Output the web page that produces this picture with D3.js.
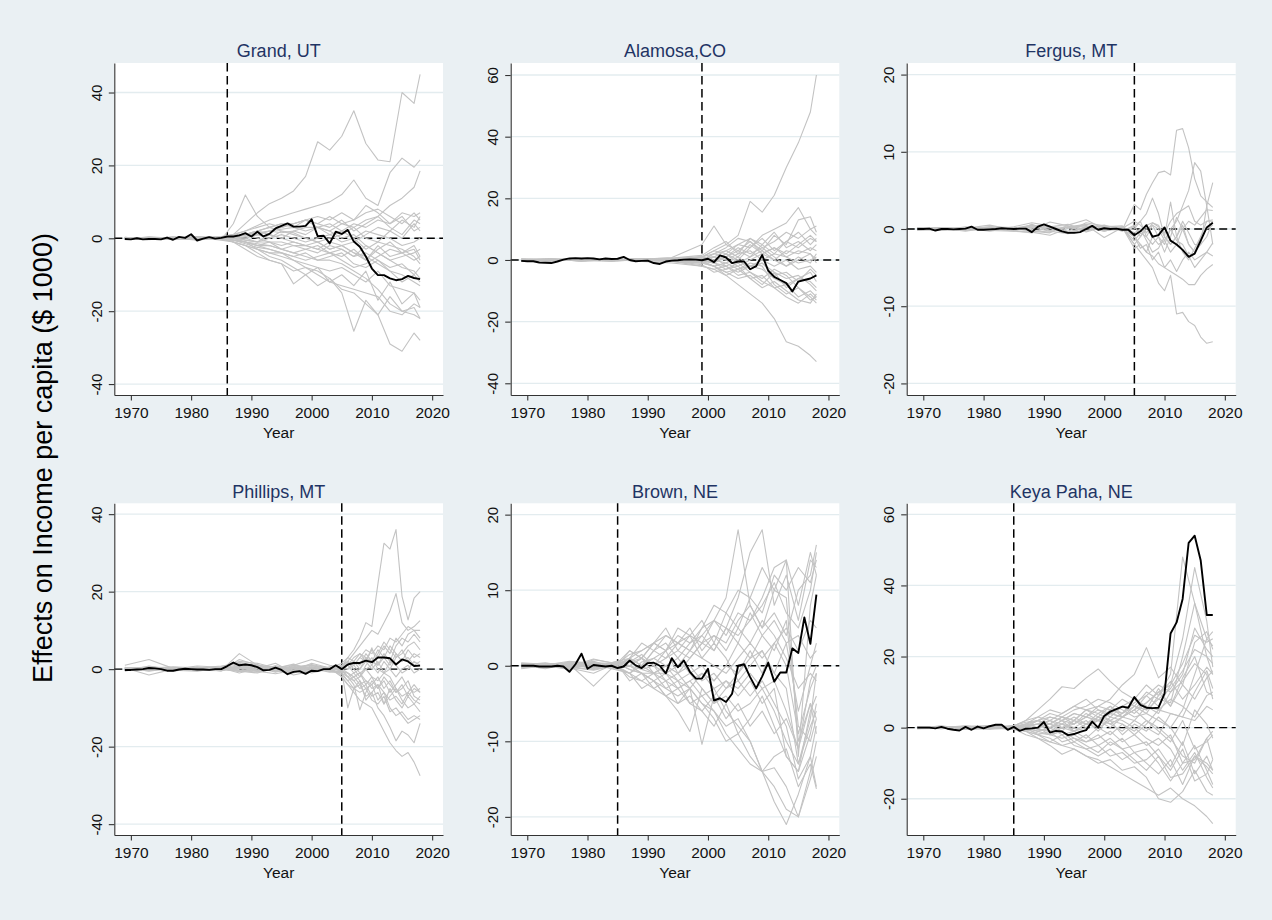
<!DOCTYPE html>
<html>
<head>
<meta charset="utf-8">
<script src="https://cdn.jsdelivr.net/npm/d3@7"></script>
<style>
html,body{margin:0;padding:0;background:#eaf0f3;}
svg{display:block;font-family:"Liberation Sans",Arial,Helvetica,sans-serif;}
</style>
</head>
<body>
<svg id="chart" width="1272" height="920"></svg>
<script>
// ---------------- DATA ----------------
const panelTitles = ["Grand, UT", "Alamosa,CO", "Fergus, MT", "Phillips, MT", "Brown, NE", "Keya Paha, NE"];
const treatYears = [1986, 1999, 2005, 2005, 1985, 1985];
const xTickValues = [1970, 1980, 1990, 2000, 2010, 2020];
const yTicksGrand = [-40, -20, 0, 20, 40];
const yTicksAlamosa = [-40, -20, 0, 20, 40, 60];
const yTicksFergus = [-20, -10, 0, 10, 20];
const yTicksPhillips = [-40, -20, 0, 20, 40];
const yTicksBrown = [-20, -10, 0, 10, 20];
const yTicksKeya = [-20, 0, 20, 40, 60];
const yTitle = "Effects on Income per capita ($ 1000)";
const xTitle = "Year";

const treatedYears = d3.range(1969, 2019);
const grandTreated = [-0.2,-0.3,0,-0.3,-0.2,-0.2,-0.3,0.2,-0.4,0.4,0.1,1.1,-0.6,-0.1,0.3,-0.1,0.1,0.5,0.5,0.8,1.4,0.5,1.8,0.5,1.2,2.7,3.4,4.1,3.2,3.2,3.4,5.2,0.6,0.7,-1.4,1.8,1.2,2.3,-0.9,-2.3,-5,-8.3,-10.1,-10.1,-11,-11.5,-11.2,-10.3,-10.9,-11.2];
const alamosaTreated = [-0.3,-0.4,-0.4,-0.8,-0.9,-1.0,-0.5,0.1,0.5,0.6,0.5,0.6,0.5,0.2,0.5,0.3,0.4,1.0,0.0,-0.4,-0.3,-0.2,-1.0,-1.3,-0.5,-0.2,-0.1,0.1,0.2,0.1,-0.1,0.4,-0.7,1.5,0.8,-1.0,-0.5,-0.5,-3.0,-2.0,1.6,-3.5,-5.5,-6.5,-7.5,-10.2,-7.0,-6.5,-6.0,-5.0];
const fergusTreated = [0,0,0.05,-0.2,0,0,-0.05,0,0.05,0.3,-0.1,-0.1,-0.05,0,0.1,0.05,0,0.05,0.05,-0.4,0.3,0.6,0.3,0,-0.3,-0.5,-0.5,-0.4,0,0.4,-0.1,0.1,0,0.05,-0.1,-0.1,-0.8,-0.3,0.5,-1.0,-0.8,0.2,-1.5,-2.0,-2.7,-3.6,-3.2,-1.5,0.2,0.8];
const phillipsTreated = [-0.2,-0.2,-0.1,0,0.3,0.2,0,-0.4,-0.4,-0.1,0.1,0,-0.1,-0.1,-0.2,0,0,0.8,1.7,1.0,1.2,1.0,0.5,-0.3,-0.2,0.4,-0.2,-1.3,-0.7,-0.5,-1.2,-0.4,-0.5,0,0,1.0,0,1.2,1.6,1.6,2.2,1.8,3.0,3.0,2.8,1.2,2.5,2.0,0.8,0.9];
const brownTreated = [0,0,0,-0.1,-0.1,-0.1,0,-0.1,-0.8,0.2,1.6,-0.4,0.1,0,-0.1,0,-0.3,-0.1,0.7,0.05,-0.3,0.35,0.4,0,-1.0,1.0,-0.2,0.7,-0.8,-1.7,-1.7,-0.4,-4.6,-4.3,-4.8,-3.7,0,0.2,-1.5,-3.0,-1.4,0.4,-2.1,-0.9,-0.9,2.3,1.7,6.4,2.9,9.4];
const keyaTreated = [0,0,0,-0.2,0.2,-0.3,-0.6,-0.8,0.2,-0.6,0.3,-0.2,0.4,0.8,0.8,-0.6,0.2,-0.9,-0.3,-0.2,0,1.6,-1.4,-0.9,-1.1,-2.1,-1.8,-1.2,-0.7,1.7,0,3.3,4.5,5.2,5.9,5.6,8.6,6.4,5.6,5.5,5.6,9.6,26.5,29.6,36.2,52,54,47,31.7,31.7];

// placebo (donor) series, read at the listed years
const grandPlaceboYears = [1969,1973,1977,1981,1985,1987,1989,1991,1993,1995,1997,1999,2001,2003,2005,2007,2009,2011,2013,2015,2017,2018];
const grandPlacebo = [
[0.3,-0.2,0.4,-0.3,0.2,1,4,7,9.5,11,13,17,26.5,24.2,28,35,26,21.5,21,40,37,45],
[-0.2,0.3,0.1,0.5,-0.4,4,11.9,6,3,2,1.5,0,-1,-3,-2,-4,-6,-3,-1,-4,-2,-5],
[0.1,-0.4,0.3,0.2,0.5,1,2,3.5,5,6,7,8,9,10,12,16,11,9,18,22,19.5,21.5],
[0,0.2,-0.3,0.4,0,0.5,0,1,2,1.5,2,3,3,2,4,3,5,6,9,11,14,18.5],
[0.2,-0.3,0.1,-0.5,0.3,-0.5,-1,-2,-3,-4,-6,-8,-9,-11,-14,-15,-18,-21,-29,-31,-26,-28],
[-0.3,0.4,0,0.2,-0.2,-1,-2,-3,-5,-6,-8,-10,-13,-11,-15,-25.5,-17,-21,-16,-20,-19,-22],
[0.1,0,-0.2,0.3,-0.5,-1,-2,-4,-6,-7,-12.5,-10,-8,-12,-10,-13,-9,-17,-12,-18,-15,-19],
[0.2,-0.1,0.3,-0.2,0.1,0,-1,-2,-2,-3,-4,-5,-6,-6,-7,-9,-11,-14,-18,-20,-21,-22],
[-0.1,0.2,0.1,-0.3,0.4,0.5,1,0,-1,-1,-2,-2,-3,-4,-3,-5,-4,-6,-8,-7,-10,-12],
[0.3,-0.3,0,0.4,-0.2,0,0.5,1,2,2.5,3,2,3,4,2,4,3,5,4,7,6,7],
[0,0.1,-0.4,0.2,0.3,0.5,-0.5,-1,0,1,0,-1,0,1,-1,0,2,1,0,-2,-1,0],
[-0.2,0.1,0.2,0,-0.3,-0.5,-1,-1.5,-2,-3,-2,-3,-4,-2,-3,-5,-2,-4,-6,-8,-9,-11],
[0.1,-0.2,0.3,0.1,0.2,1,2,3,4,3,4,5,4,3,5,2,4,6,3,1,5,4],
[0,0.3,-0.1,-0.2,0,-0.5,-1,-2,-1,-3,-4,-3,-2,-4,-5,-3,-6,-2,-5,-4,-3,-6],
[0.2,0,0.1,0.3,-0.1,0,1,1,0,2,1,0,-1,0,1,3,0,-1,2,5,3,6],
[-0.3,0.2,-0.2,0.1,0.2,-1,-2,-3,-4,-5,-6,-7,-8,-9,-8,-10,-12,-9,-13,-14,-15,-17],
[0.1,0.2,0,-0.4,0.1,0.5,1,2,3,4,4,5,3,2,0,1,-2,-4,-6,-5,-4,-3],
[0,-0.1,0.3,0.2,-0.2,0,-0.5,-1,-1,-2,-1,-2,-1,-3,-2,-1,1,3,2,0,4,2],
[-0.1,0.1,-0.3,0.3,0.4,1,1,2,1,0,-1,-2,-3,-1,-2,-4,-5,-7,-9,-10,-12,-13],
[0.2,-0.2,0.1,0,0.3,0,-1,-3,-4,-4,-5,-6,-5,-4,-6,-8,-7,-5,-3,-4,-6,-5],
[0,0.2,-0.1,0.2,-0.1,0.5,1,1.5,2,3,4,5,6,5,7,5,9,7,4,6,2,3],
[-0.2,0,0.2,-0.1,0.2,-0.5,-1.5,-2.5,-3,-4,-5,-4,-6,-5,-4,-7,-8,-6,-9,-12,-10,-8],
[0.1,-0.3,0,0.3,0,0,0,-1,1,0,2,1,3,1,2,0,-3,-1,-2,-3,-5,-7],
[0,0.1,0.2,-0.2,0.2,-1,-3,-5,-6,-7,-9,-8,-10,-12,-13,-14,-15,-16,-20,-21,-18,-19],
[0.1,0.2,-0.2,0,0.1,0.5,1,2,3,4,3,5,4,6,4,5,7,8,6,4,7,5]
];

const alamosaPlaceboYears = [1969,1974,1979,1984,1989,1994,1999,2001,2003,2005,2007,2009,2011,2013,2015,2017,2018];
const alamosaPlacebo = [
[0.2,-0.3,0.4,0,0.5,-0.2,1,3,5,8,19,15.5,21,30,38,48,60],
[-0.2,0.3,-0.4,0.2,-0.5,-1,-2,-3,-5,-8,-11,-14,-19,-26.5,-28,-31,-33],
[0.1,0.2,-0.3,0.5,0.2,0.8,5,11,5,3,6,2,4,1,3,2,0],
[0,-0.2,0.3,-0.1,0.4,0,1,2,3,5,4,8,10,12,17,10,11],
[-0.3,0.1,0.2,-0.2,0.3,-0.5,-1,-2,-4,-3,-6,-5,-9,-12,-14,-11,-13],
[0.2,0.4,-0.1,0.3,-0.3,0.5,0,2,4,7,6,3,8,5,13,14,9],
[0,-0.3,0.2,0.1,0,-0.3,-1,1,-2,0,-3,-1,-4,-6,-5,-8,-10],
[-0.1,0.2,0,-0.4,0.2,0.3,0.5,-1,1,3,1,5,2,6,4,7,6],
[0.3,0,-0.2,0.2,-0.1,-0.4,-2,-3,-2,-5,-4,-7,-9,-8,-12,-10,-12],
[0,0.1,0.3,0,0.4,0.2,1,0,2,-1,1,3,0,-2,1,-1,2],
[-0.2,-0.1,0.1,0.3,-0.2,0,-0.5,-2,-1,-3,-2,-1,-5,-4,-7,-3,-5],
[0.1,0.3,-0.3,-0.2,0.3,0.6,1.5,4,6,2,7,5,9,4,6,3,5],
[0.2,-0.2,0,0.2,0.1,-0.2,0,-1,-3,-2,-6,-9,-7,-10,-13,-14,-11],
[-0.1,0,0.2,-0.3,0,0.4,0.5,1,0,2,3,0,-2,0,-3,-2,-4],
[0,0.2,-0.2,0.1,-0.3,-0.3,-1,-2,-4,-6,-5,-8,-4,-9,-6,-7,-9],
[0.3,-0.1,0.1,0,0.2,0.3,0,2,1,4,2,4,6,9,7,10,8],
[-0.3,0.1,-0.1,0.2,-0.2,0,-0.5,0,-1,1,-2,0,2,1,-1,0,1],
[0.1,0,0.3,-0.2,0.4,-0.1,0.5,1,3,1,5,2,0,3,2,4,3],
[0,-0.2,0.1,0.3,-0.1,-0.4,-1.5,-4,-3,-1,-4,-6,-3,-5,-9,-12,-14],
[-0.2,0.2,0,-0.1,0.3,0.2,0,-1,2,0,4,7,3,6,9,5,7],
[0.2,0.1,-0.2,0.1,0,-0.2,-0.5,-1,-2,-4,-2,-3,-6,-8,-6,-4,-7],
[0,0.3,0.2,-0.3,0.2,0.5,1,3,2,5,7,4,1,-2,0,2,-1],
[-0.1,-0.2,0.1,0.2,-0.4,0.1,-0.3,-2,-5,-3,-1,-2,-8,-11,-9,-13,-12],
[0.1,0.1,-0.1,0,0.1,0,0.3,1,0,-2,0,2,4,2,5,8,6]
];

const fergusPlaceboYears = [1969,1973,1977,1981,1985,1988,1991,1994,1997,2000,2003,2005,2006,2007,2008,2009,2010,2011,2012,2013,2014,2015,2016,2017,2018];
const fergusPlacebo = [
[0,0.2,-0.1,0.3,0.1,0.5,-0.2,0.3,0.6,0.2,-0.1,3.2,2.5,4.5,6,7.3,7.5,7,12.8,13,10.5,6.5,4.3,3.5,2.8],
[0.1,-0.2,0.3,0,-0.2,-0.5,0.3,0.2,-0.3,0.4,0.2,-2,-3,-4,-5,-7,-8,-6,-11,-10.8,-12,-12.5,-14,-14.8,-14.6],
[-0.1,0,0.2,-0.2,0.3,0.8,0.4,-0.4,0.2,-0.3,0.3,-2,-1,0,0.5,-1,-2,0,1,3,5,8.6,7.5,3,-2],
[0,0.1,-0.3,0.2,0,-0.3,-0.5,0.5,1.2,0,-0.2,0,1,2,4,2,-1,3.5,-1,0.5,-2,-3,-2,-1,1],
[0.2,0,0.1,0.5,-0.1,0.4,0.3,0.6,-0.2,0.3,0.1,1,0.5,-0.5,0.8,0.5,-1,-2,-1,1,-0.5,-2,-2,3,6],
[-0.2,0.1,0,-0.1,0.2,0.2,-0.3,-0.6,0.3,-0.2,0,-1,-2,-3,-3.5,-4.5,-5,-5.5,-6,-6.5,-7.2,-7.2,-6,-5.2,-4.6],
[0.1,-0.1,0.2,0.1,-0.3,-0.4,-0.8,0.1,0.5,-1.1,0.2,-2.5,-2,-3,-1,-2,-1.5,0,-1.5,-2,-3.5,-5,-4,-3,-3.5],
[0,0.2,0.1,-0.3,0.2,0.1,0.3,-0.3,0.8,0.4,-0.3,0.5,-1,0.5,0.8,0.3,-0.5,1,2,2.5,3,1,0.5,1,1],
[-0.1,-0.2,0,0.2,0,-0.1,0.9,0.4,-0.4,0.3,0.4,-1,-2.5,-2,-4,-3,-5,-4,-5.5,-4,-3,-4,-3.5,-3,-1.8],
[0.2,0.1,-0.2,0,0.1,0.3,0.1,-0.5,0.3,-0.2,0.1,-1.5,-0.5,-1,0.5,0,-1.5,-3,-2,0,1,0.5,1.5,2.5,2.4],
[0,-0.1,0.1,-0.2,-0.3,0.6,-0.2,0.2,0.1,0.5,-0.2,0.3,1,-1,-2,-1,-3,-1,1.5,0,-2,-3,-1,0,0.5],
[-0.1,0.2,0,0.3,0.2,-0.2,-0.4,0.3,0.4,-0.3,0.3,-0.5,0,-1.5,-3,-2.5,-1,-2,-1,-3,-4,-2.5,-1,1,1.2]
];

const phillipsPlaceboYears = [1969,1973,1977,1981,1985,1988,1991,1994,1997,2000,2003,2005,2006,2007,2008,2009,2010,2011,2012,2013,2014,2015,2016,2017,2018];
const phillipsPlacebo = [
[1,2.5,0.2,0.5,-0.3,4,1,0.5,-0.5,1.5,0.3,0.5,3,5,8,12,11,22,32.5,31,36,18.8,12.7,18.3,20],
[-0.3,0.5,-0.5,0.3,0.8,1.5,0.5,-0.5,1,0.3,-0.5,1,2,4,6,8,10,9,12,15,19.5,12,10,11,12.5],
[0.5,-0.5,0.3,-0.2,0.2,-0.5,-1,0.3,-1.5,-0.5,0.2,-2,-4,-6,-8,-9,-10,-13,-16,-19,-21,-22.5,-21.5,-24,-27.5],
[-0.2,0.3,0.6,0.3,-0.3,0.5,0.5,-0.8,0.5,1,-0.5,-1,-3,-5,-4,-7,-6,-10,-12,-15,-18.5,-16,-17,-19,-14],
[0.3,-1.5,0,0.8,0.5,2,1.5,0.3,1,2.5,1,0.5,2,1,3,2,5,3,6,4,8,6,9,10,10],
[0,0.2,-0.3,-0.5,0.3,-0.2,-0.5,-1.2,-0.3,0.2,-0.8,-0.5,-10,-5,-3,-8,-6,-4,-9,-7,-5,-8,-10,-9,-11],
[0.2,0,0.2,0.5,-0.5,1,-0.3,0.8,0.2,-0.3,0.5,0,-2,-4,-10.5,-6,-3,-5,-2,-4,-6,-5,-3,-7,-8],
[-0.5,0.8,-0.2,0,0.4,0.3,0.8,0.5,-0.8,0.5,-0.2,1,0,2,1,4,2,5,3,1,4,2,5,3,4],
[0.3,-0.3,0.4,-0.3,0.6,-0.6,0.2,-0.4,0.6,-0.5,0.3,-1.5,-3,-2,-4,-3,-5,-4,-6,-8,-7,-9,-6,-8,-9],
[-0.2,0.4,0,0.3,-0.2,0.8,-0.2,0.6,-0.4,0.8,0.4,0.5,1,-1,0,2,5.5,1,3,6,4,2,3,1,2],
[0,-0.2,0.3,-0.1,0.2,1.2,0.3,-0.3,0.3,-0.8,0.6,-0.5,-1,-3,-2,0,-2,-5,-3,-6,-4,-2,-5,-6,-5],
[0.4,0.3,-0.4,0.5,0.3,-0.3,-0.8,0.4,-0.6,0.2,-0.3,0.3,1,3,4,2,0,2,-1,0,3,5,2,4,3],
[-0.3,0,0.1,0.1,0,0.6,0.6,0,0.4,0.3,0.2,-0.3,-2,-1,-3,-5,-4,-8,-6,-10,-12,-11,-13,-12,-13],
[0.1,0.6,0.2,-0.3,-0.4,2.5,1,-0.6,0.8,-1,0.1,0.8,2,0,-2,1,3,0,-1,2,1,-1,0,2,1],
[-0.1,-0.4,0.5,0.2,0.3,-1,0.2,1.5,-1,0.6,-0.4,-0.8,-1,-2,-1,-4,-2,-3,-1,-2,-5,-7,-6,-4,-6],
[0.2,0.2,-0.1,-0.4,0.5,0.4,-0.5,0.2,1.3,-0.2,0.3,1.5,3,2,4,3,1,4,7,5,3,4,6,7,5],
[0,-0.3,0.2,0.3,-0.2,-0.4,1.2,-0.2,-0.2,0.4,-0.6,-1,-2,-3,-5,-4,-7,-6,-9,-5,-8,-10,-7,-9,-7],
[0.3,0.1,-0.2,0.2,0.1,0.8,-0.6,0.3,0.5,1.2,0.2,0.2,0,1,-1,0,1,-1,2,0,-2,0,1,-1,0],
[-0.4,0.5,0.3,0,-0.1,0.2,0.4,-0.5,-0.8,-0.5,0.5,-2,-4,-5,-6,-5,-8,-9,-7,-11,-10,-12,-14,-13,-12],
[0.1,-0.1,-0.3,0.4,0.4,1.8,0.8,0.7,0.3,0.1,-0.2,0.6,1,2,0,3,2,1,4,2,6,8,7,9,7],
[0.2,-0.2,0.1,0.3,-0.3,0.6,-0.4,0.9,-0.2,0.5,-0.3,0.2,-1,-2,-1,-3,-4,-2,-5,-3,-6,-4,-7,-5,-6],
[-0.1,0.3,0,-0.2,0.2,-0.6,0.5,-0.3,0.2,1,-0.1,-0.4,2,1,3,5,4,6,5,8,7,9,11,10,8]
];

const brownPlaceboYears = [1969,1973,1977,1981,1985,1987,1989,1991,1993,1995,1997,1999,2001,2003,2005,2007,2009,2011,2013,2015,2017,2018];
const brownPlacebo = [
[0.3,-0.2,0.5,-0.5,0.2,1,0,2,1,3,2,4,6,9,18,8,5,7,4,10,12,16],
[-0.2,0.3,-0.3,0.2,-0.5,-1,0.5,1,2,3,4,3,6,5,9,15,18,8,12,6,14,13],
[0.2,0,-0.5,0.8,0.3,-0.5,-1,-2,-3,-4,-3,-5,-6,-8,-7,-10,-14,-18,-21,-17,-12,-16],
[0,0.3,0.2,-0.3,-0.2,0,-1,-1,-2,-3,-2,-4,-6,-9,-11,-13,-14,-16,-19,-20,-14,-10],
[-0.3,0.1,0.2,-2.7,0.4,0.5,1,0,2,-1,1,3,2,5,4,6,9,13,14,-12,8,12],
[0.1,-0.4,0.3,0.3,-0.3,-1,-2,-3,-2,-5,-4,-6,-8,-5,-9,-7,-4,-8,-12,-14,-6,-4],
[0.4,0.2,0.1,-0.2,0.6,1,2,3,4,3,5,2,4,3,6,8,5,10,9,-10,-5,-7],
[-0.1,0,0.4,0.5,-0.4,0,-1,-2,-4,-6,-8.7,-3,-5,-4,-6,-5,-3,-6,-10,-13,-8,-6],
[0.2,0.3,-0.2,-0.6,0.1,1,0,-1,-1,-2,-3,-10.4,-4,-2,-3,-1,-3,-2,-6,-11,-2,0],
[0,-0.2,0.5,0.4,0.3,1.5,2,3,2,4,3,5,6,4,7,6,8,11,7,5,10,15],
[-0.3,0.3,0,0.2,-0.6,-1,0,1,0,-1,0,-2,-1,-3,-2,-4,-2,-5,-8,-15,-12,-8],
[0.3,-0.1,-0.3,-1,0.4,2,1,3,5,2,4,1,3,1,-2,0,2,-1,3,4,1,2],
[-0.2,0.1,0.6,0.3,-0.1,-1.5,-2,-1,-3,-2,-5,-4,-3,-6,-8,-10,-14,-13.5,-16,-20,-15,-12],
[0.1,0.4,-0.1,0.9,0.2,0.5,1.5,0,1,2,1,3,4,2,5,3,6,4,1,-3,-1,-2],
[0,-0.3,0.2,-0.4,0.5,0,-0.5,-1,0,1,-1,0,-2,0,3,1,4,2,6,-8,-10,-7],
[0.2,0.2,-0.4,0.1,-0.2,1,3,2,4,3,2,5,8,7,10,9,13,10,14,8,15,12],
[-0.4,0,0.3,-0.3,0.1,-2,-1,-3,-4,-3,-5,-6,-4,-7,-5,-8,-6,-9,-7,-11,-5,-9],
[0.3,0.2,0,0.6,-0.3,0,1,0,-1,0,2,1,0,-1,1,3,1,3,5,2,6,5],
[0,-0.1,-0.2,-0.5,0.3,-0.5,-1,-2,-1,-3,-2,-1,-3,-2,-4,-2,-5,-3,-12,-14,-9,-5],
[0.1,0.3,0.3,0.2,-0.4,1,0,2,3,1,3,4,2,5,3,7,4,6,3,-6,0,3],
[-0.2,-0.2,0.1,-0.1,0.6,0,1,-1,0,-2,-1,-3,-5,-3,-1,2,-1,3,0,-9,-3,-1],
[0.2,0,-0.2,0.4,0,2,1,3,2,5,4,6,3,7,5,9,7,12,10,13,11,14],
[0,0.2,0.4,-0.2,-0.1,-1,-3,-2,-4,-5,-3,-5,-7,-10,-9,-12,-14,-12,-11,-16,-13,-16.3],
[-0.1,-0.3,0,0.3,0.2,0.5,-0.5,0,-2,-1,-3,-1,-2,0,-1,1,2,-1,-3,-13,-7,-1]
];

const keyaPlaceboYears = [1969,1973,1977,1981,1985,1987,1989,1991,1993,1995,1997,1999,2001,2003,2005,2007,2009,2011,2013,2015,2017,2018];
const keyaPlacebo = [
[0.2,-0.3,0.4,0.3,0.2,1,2,3,2,4,3,5,4,6,8,12,9,15,48,35,20,15],
[-0.2,0.5,-0.4,0.2,-0.5,-1,0,1,3,2,5,4,6,3,5,9,6,12,25,45,30,17],
[0.3,0,0.5,-0.3,0.4,2,5,8,11.5,11,14,16.5,13,10,8,6,5,4,3,2,6,5],
[0,0.3,-0.3,0.5,-0.2,0,2,1,3,2,5,6,8,12,15,22.5,14,17,12,24,27,22],
[-0.3,-0.2,0.2,0,0.5,-1,-2,-4,-5,-6,-8,-9,-11,-13,-15,-17,-19,-17,-20,-22,-25,-27],
[0.1,0.4,-0.5,-0.2,-0.3,-2,-3,-5,-7.5,-6,-8,-10,-9,-12,-11,-14,-20,-21,-18,-12,-18,-19],
[0.2,-0.1,0.3,0.6,0,1,0,-2,-1,-3,-4,-2,-5,-3,-7,-6,-10,-15,-10,-5,-12,-16],
[-0.1,0.2,0,-0.4,0.3,0.5,1,3,2,4,3,6,5,8,6,10,8,7,20,35,25,27],
[0.3,-0.2,0.2,0.3,-0.4,0,-1,0,-2,-1,-3,0,-2,1,-1,2,0,-3,-8,-10,-3,-9],
[0,0.3,-0.2,-0.3,0.6,1.5,2,4,3,5,6,8,7,5,3,4,2,0,5,15,25,23],
[-0.2,0,0.4,0.2,-0.2,-1,-2,-1,-4,-3,-5,-7,-4,-6,-9,-12,-8,-14,-13,-8,-11,-13],
[0.2,0.1,-0.3,0.4,0.1,0.5,1,2,0,1,3,2,4,3,6,4,9,13,8,12,17,15],
[0,-0.3,0.2,-0.1,-0.4,0,-1,-2,-3,-2,-4,-3,-1,-4,-2,-5,-3,-6,-12,-7,-14,-17],
[0.3,0.2,0.1,0.3,0.3,1,3,2,4,6,5,3,6,4,8,5,11,6,14,20,10,9],
[-0.3,0.1,-0.2,-0.2,0,-0.5,0,1,-1,2,0,3,1,-1,2,0,-2,4,3,10,16,11],
[0.1,-0.1,0.3,0,-0.2,0.5,-0.5,-1,1,0,2,-1,3,2,0,-3,-5,-2,-10,-9,-3,-1],
[0,0.2,-0.1,0.5,0.4,-1,-3,-4,-2,-5,-6,-8,-6,-9,-7,-10,-13,-9,-16,-8,-10,-12],
[0.2,0.3,0.2,-0.4,-0.1,1,2,1,3,1,4,2,5,4,7,9,12,10,15,28,22,20],
[-0.1,-0.2,0,0.2,0.2,0,1,-1,0,-1,1,0,2,-2,1,-1,3,0,-5,5,1,-3],
[0.2,0,0.4,0.1,-0.3,-0.5,-1.5,-2,-1,-4,-2,-5,-3,-6,-5,-4,-8,-12,-6,-15,-13,-9],
[0,0.3,-0.2,-0.3,0.5,2,3,5,4,6,8,5,3,6,4,7,10,6,12,8,14,16],
[-0.2,0.1,0.1,0.3,-0.1,-1,0,2,1,3,1,2,0,3,5,2,-1,-4,2,-6,-4,-2],
[0.1,-0.2,-0.3,0,0.2,0.5,2,0,2,-1,1,4,2,1,-2,1,5,8,6,3,9,10],
[0,0.1,0.2,-0.2,0,0,-2,-3,-5,-4,-6,-5,-8,-7,-10,-9,-6,-11,-4,-13,-8,-12],
[0.1,0,-0.2,0.3,0.2,0.5,1,0,2,1,3,2,4,3,5,7,10,12,18,26,24,25],
[-0.1,0.2,0.3,-0.1,0,-0.5,0,1,0,2,1,3,2,4,6,5,8,11,16,22,20,18],
[0,-0.2,0.1,0.2,-0.3,0,-1,0,1,-1,0,2,1,3,2,6,4,10,13,18,15,8]
];

// ---------------- ASSEMBLY ----------------
const panels = [
  {title: panelTitles[0], treat: treatYears[0], yTicks: yTicksGrand,   yDomain: [-43, 48.1],  treated: grandTreated,   pYears: grandPlaceboYears,   placebo: grandPlacebo},
  {title: panelTitles[1], treat: treatYears[1], yTicks: yTicksAlamosa, yDomain: [-43.8, 63.9], treated: alamosaTreated, pYears: alamosaPlaceboYears, placebo: alamosaPlacebo},
  {title: panelTitles[2], treat: treatYears[2], yTicks: yTicksFergus,  yDomain: [-21.5, 21.5], treated: fergusTreated,  pYears: fergusPlaceboYears,  placebo: fergusPlacebo},
  {title: panelTitles[3], treat: treatYears[3], yTicks: yTicksPhillips,yDomain: [-42.8, 42.8], treated: phillipsTreated,pYears: phillipsPlaceboYears,placebo: phillipsPlacebo},
  {title: panelTitles[4], treat: treatYears[4], yTicks: yTicksBrown,   yDomain: [-22.4, 21.5], treated: brownTreated,   pYears: brownPlaceboYears,   placebo: brownPlacebo},
  {title: panelTitles[5], treat: treatYears[5], yTicks: yTicksKeya,    yDomain: [-30.2, 63.1], treated: keyaTreated,    pYears: keyaPlaceboYears,    placebo: keyaPlacebo}
];

const W = 1272, H = 920;
const BG = "#eaf0f3";
const colX = [[114.3, 443], [510.7, 839.3], [906.7, 1235.7]];
const rowY = [[63, 395], [503.3, 835]];
const xDomain = [1967.25, 2021.8];

const svg = d3.select("#chart");
svg.append("rect").attr("width", W).attr("height", H).attr("fill", BG);

panels.forEach((p, i) => {
  const [x0, x1] = colX[i % 3];
  const [y0, y1] = rowY[Math.floor(i / 3)];
  const x = d3.scaleLinear().domain(xDomain).range([x0, x1]);
  const y = d3.scaleLinear().domain(p.yDomain).range([y1, y0]);
  const g = svg.append("g").attr("class", "panel");

  g.append("rect").attr("x", x0).attr("y", y0).attr("width", x1 - x0).attr("height", y1 - y0).attr("fill", "#ffffff");

  // gridlines
  g.append("g").selectAll("line").data(p.yTicks).join("line")
    .attr("x1", x0).attr("x2", x1)
    .attr("y1", d => y(d)).attr("y2", d => y(d))
    .attr("stroke", "#e3ecef").attr("stroke-width", 1.3);

  // reference lines
  g.append("line").attr("x1", x0).attr("x2", x1).attr("y1", y(0)).attr("y2", y(0))
    .attr("stroke", "#000").attr("stroke-width", 1.4).attr("stroke-dasharray", "8,4.5");
  g.append("line").attr("x1", x(p.treat)).attr("x2", x(p.treat)).attr("y1", y0).attr("y2", y1)
    .attr("stroke", "#000").attr("stroke-width", 1.5).attr("stroke-dasharray", "8.5,4.5");

  const line = d3.line().x(d => x(d[0])).y(d => y(d[1]));

  // placebo lines
  g.append("g").selectAll("path").data(p.placebo).join("path")
    .attr("d", s => line(p.pYears.slice(0, s.length).map((yr, k) => [yr, s[k]])))
    .attr("fill", "none").attr("stroke", "#c3c3c3").attr("stroke-width", 1.1)
    .attr("stroke-linejoin", "round");

  // treated line
  g.append("path")
    .attr("d", line(treatedYears.map((yr, k) => [yr, p.treated[k]])))
    .attr("fill", "none").attr("stroke", "#000").attr("stroke-width", 1.9)
    .attr("stroke-linejoin", "round");

  // axes
  const yAxis = d3.axisLeft(y).tickValues(p.yTicks).tickSize(5.5).tickSizeOuter(0).tickFormat(d => String(d));
  const ya = g.append("g").attr("transform", `translate(${x0},0)`).call(yAxis);
  ya.select(".domain").attr("stroke", "#333").attr("stroke-width", 1.1);
  ya.selectAll(".tick line").attr("stroke", "#333").attr("stroke-width", 1.1);
  ya.selectAll(".tick text")
    .attr("x", null).attr("dy", null).attr("y", null)
    .attr("transform", "translate(-12.5,0) rotate(-90)")
    .attr("text-anchor", "middle")
    .attr("font-size", 15).attr("fill", "#111")
    .attr("font-family", '"Liberation Sans",Arial,Helvetica,sans-serif');

  const xAxis = d3.axisBottom(x).tickValues(xTickValues).tickSize(5.5).tickSizeOuter(0).tickPadding(6).tickFormat(d => String(d));
  const xa = g.append("g").attr("transform", `translate(0,${y1})`).call(xAxis);
  xa.select(".domain").attr("stroke", "#333").attr("stroke-width", 1.1);
  xa.selectAll(".tick line").attr("stroke", "#333").attr("stroke-width", 1.1);
  xa.selectAll(".tick text").attr("font-size", 15.5).attr("fill", "#111")
    .attr("font-family", '"Liberation Sans",Arial,Helvetica,sans-serif');

  // titles
  g.append("text").attr("x", (x0 + x1) / 2).attr("y", y0 - 5.7)
    .attr("text-anchor", "middle").attr("font-size", 18).attr("fill", "#1f3464")
    .text(p.title);
  g.append("text").attr("x", (x0 + x1) / 2).attr("y", y1 + 43.3)
    .attr("text-anchor", "middle").attr("font-size", 15.5).attr("fill", "#111")
    .text(xTitle);
});

svg.append("text")
  .attr("transform", "translate(52,458) rotate(-90)")
  .attr("text-anchor", "middle").attr("font-size", 27).attr("fill", "#000")
  .text(yTitle);
</script>
</body>
</html>
